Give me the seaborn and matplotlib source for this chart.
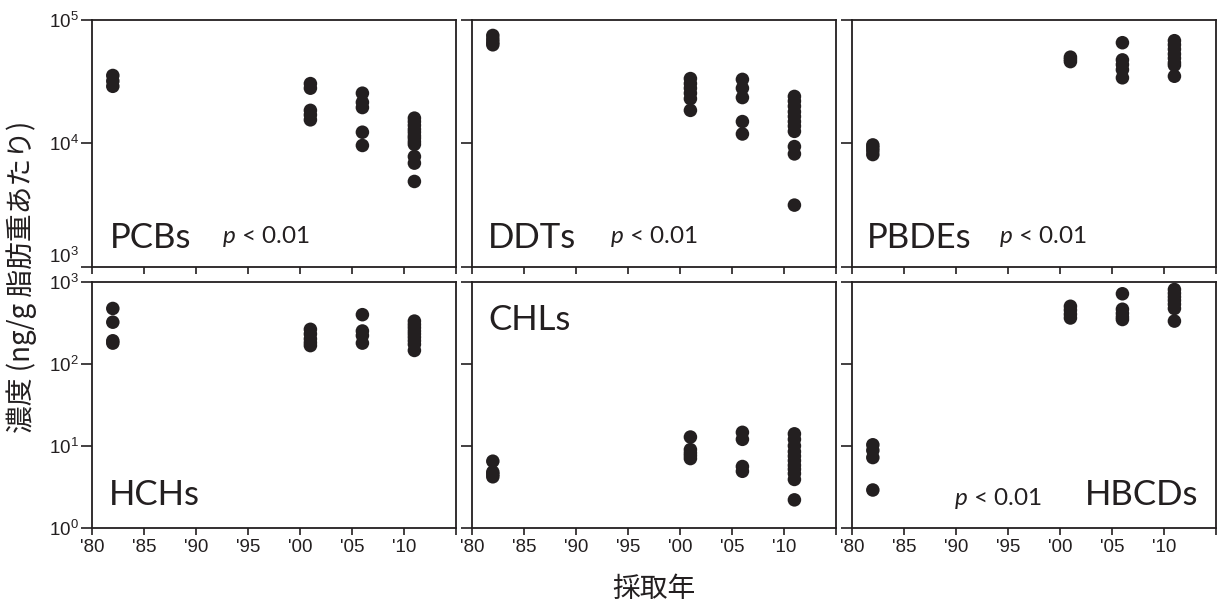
import pandas as pd
import seaborn as sns
import matplotlib.pyplot as plt
from matplotlib.ticker import FixedLocator, NullLocator, LogFormatterSciNotation

# --- 測定値 (ng/g 脂肪重あたり), 図から読み取り ---
pcbs_year = [1982] * 3 + [2001] * 5 + [2006] * 5 + [2011] * 12
pcbs_val = [35500, 32000, 29000,
            30500, 28000, 18500, 17000, 15500,
            25500, 21500, 19500, 12300, 9600,
            16000, 15000, 14000, 13000, 12300, 11500, 11000, 10300, 9800, 7800, 6900, 4900]

ddts_year = [1982] * 4 + [2001] * 6 + [2006] * 5 + [2011] * 11
ddts_val = [75000, 70000, 66000, 63000,
            33500, 30500, 28000, 25500, 23000, 18500,
            33000, 28000, 23500, 15000, 11900,
            24000, 22000, 20000, 18000, 16500, 15000, 13800, 12500, 9400, 8200, 3150]

pbdes_year = [1982] * 4 + [2001] * 3 + [2006] * 5 + [2011] * 8
pbdes_val = [9700, 9200, 8700, 8100,
             50000, 48000, 46000,
             65500, 47500, 43500, 39500, 34000,
             68000, 63000, 58000, 53000, 49000, 45000, 43000, 35000]

hchs_year = [1982] * 4 + [2001] * 5 + [2006] * 4 + [2011] * 9
hchs_val = [470, 320, 190, 178,
            262, 230, 200, 180, 166,
            395, 250, 220, 178,
            330, 300, 275, 250, 230, 210, 190, 172, 145]

chls_year = [1982] * 4 + [2001] * 5 + [2006] * 4 + [2011] * 11
chls_val = [6.5, 4.8, 4.5, 4.2,
            12.8, 9.0, 8.2, 7.6, 7.0,
            14.6, 12.0, 5.6, 4.9,
            14.0, 12.0, 10.0, 8.5, 7.5, 6.6, 5.8, 5.2, 4.6, 3.9, 2.2]

hbcds_year = [1982] * 4 + [2001] * 4 + [2006] * 5 + [2011] * 7
hbcds_val = [10.3, 8.8, 7.2, 2.9,
             500, 450, 400, 360,
             710, 460, 410, 370, 345,
             800, 720, 650, 590, 530, 470, 330]

compounds = ['PCBs', 'DDTs', 'PBDEs', 'HCHs', 'CHLs', 'HBCDs']
years = [pcbs_year, ddts_year, pbdes_year, hchs_year, chls_year, hbcds_year]
values = [pcbs_val, ddts_val, pbdes_val, hchs_val, chls_val, hbcds_val]

x_ticks = [1980, 1985, 1990, 1995, 2000, 2005, 2010, 2015]
x_labels = ["'80", "'85", "'90", "'95", "'00", "'05", "'10", ""]

# ラベル位置 (軸座標): 名前, p値
name_pos = [(0.05, 0.077), (0.044, 0.077), (0.041, 0.077),
            (0.047, 0.093), (0.044, 0.805), (0.639, 0.093)]
p_pos = [(0.357, 0.097), (0.379, 0.097), (0.405, 0.097),
         None, None, (0.281, 0.093)]

df = pd.concat([
    pd.DataFrame({'compound': c, 'year': y, 'value': v})
    for c, y, v in zip(compounds, years, values)
], ignore_index=True)

sns.set_theme(style="ticks")
plt.rcParams['font.family'] = ['Liberation Sans', 'Noto Sans CJK JP']
plt.rcParams['mathtext.default'] = 'regular'
plt.rcParams['mathtext.fontset'] = 'custom'
plt.rcParams['mathtext.rm'] = 'Lato'
plt.rcParams['mathtext.it'] = 'Lato:italic'

ink = '#231f20'

fig, axes = plt.subplots(2, 3, figsize=(12.17, 6.08), dpi=100)
fig.subplots_adjust(left=0.0756, right=0.9992, top=0.967, bottom=0.1316,
                    wspace=0.044, hspace=0.061)

for i, (ax, comp) in enumerate(zip(axes.flat, compounds)):
    row, col = divmod(i, 3)
    sns.scatterplot(data=df[df['compound'] == comp], x='year', y='value',
                    ax=ax, color=ink, s=95, edgecolor='none', linewidth=0,
                    legend=False)
    ax.set_yscale('log')
    if row == 0:
        ax.set_ylim(1e3, 1e5)
        ax.yaxis.set_major_locator(FixedLocator([1e3, 1e4, 1e5]))
    else:
        ax.set_ylim(1e0, 1e3)
        ax.yaxis.set_major_locator(FixedLocator([1e0, 1e1, 1e2, 1e3]))
    ax.yaxis.set_major_formatter(LogFormatterSciNotation())
    ax.yaxis.set_minor_locator(NullLocator())
    ax.set_xlim(1980, 2015)
    ax.set_xticks(x_ticks)
    ax.set_xticklabels(x_labels)
    ax.set_xlabel('')
    ax.set_ylabel('')

    for sp in ax.spines.values():
        sp.set_color(ink)
        sp.set_linewidth(1.3)
    ax.tick_params(axis='y', direction='out', length=8, width=1.2, color=ink,
                   labelsize=13.5, pad=1.5, labelcolor=ink, labelleft=(col == 0))
    ax.tick_params(axis='x', direction='out', length=5, width=1.2, color=ink,
                   labelsize=13.5, pad=3, labelcolor=ink, labelbottom=(row == 1))

    nx, ny = name_pos[i]
    ax.text(nx, ny, comp, transform=ax.transAxes, fontsize=25,
            family='Lato', color=ink, va='baseline', ha='left')
    if p_pos[i] is not None:
        px, py = p_pos[i]
        ax.text(px, py, r'$\mathit{p}$ < 0.01', transform=ax.transAxes,
                fontsize=17.5, family='Lato', color=ink, va='baseline', ha='left')

# 上段の 10^3 ラベルは軸線の上に寄せる (下段の 10^3 と重ならないように)
axes[0, 0].yaxis.get_major_ticks()[0].label1.set_verticalalignment('bottom')

fig.text(0.018, 0.545, '濃度 (ng/g 脂肪重あたり)', rotation=90, ha='center',
         va='center', fontsize=20, color=ink,
         family=['Noto Sans CJK JP', 'DejaVu Sans'])
fig.text(0.537, 0.032, '採取年', ha='center', va='center', fontsize=20,
         color=ink, family=['Noto Sans CJK JP', 'DejaVu Sans'])

fig.savefig('out.png', dpi=100)
